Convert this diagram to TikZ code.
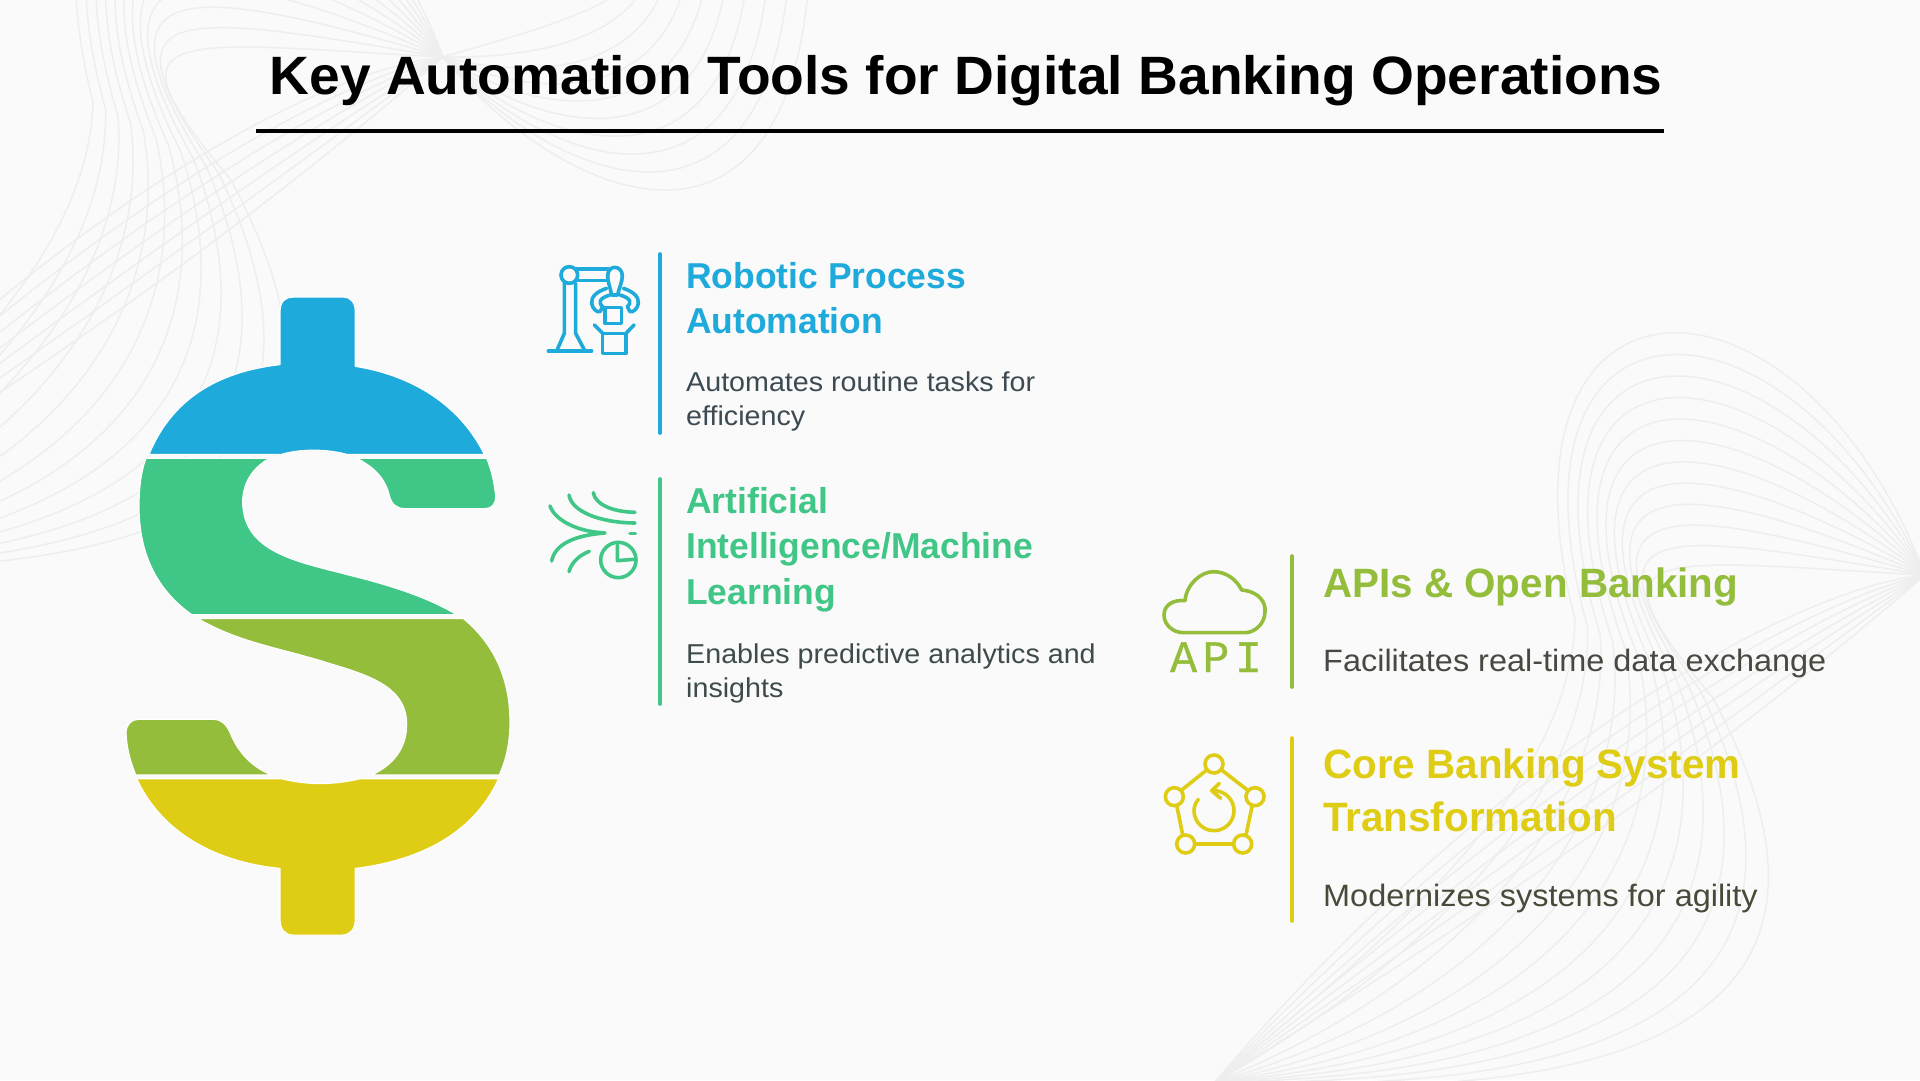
\documentclass[tikz,border=0pt]{standalone}
\usepackage{fontspec}
\setmainfont{Liberation Sans}
\newfontfamily\titlefont[FakeStretch=1.021]{Liberation Sans Bold}
\newfontfamily\headfont[FakeStretch=0.985]{Liberation Sans Bold}
\newfontfamily\bodyfont[FakeStretch=1.05]{Liberation Sans}
\newfontfamily\apifont[LetterSpace=12,FakeBold=0.6]{Liberation Mono}
\definecolor{bgc}{HTML}{FAFAFA}
\definecolor{linec}{HTML}{EEEEEE}
\definecolor{cblue}{HTML}{1EAADB}
\definecolor{cgreen}{HTML}{40C687}
\definecolor{colive}{HTML}{94BD3C}
\definecolor{cyellow}{HTML}{DFCD15}
\definecolor{dblue}{HTML}{3D4A52}
\definecolor{dgreen}{HTML}{3F4B4B}
\definecolor{dolive}{HTML}{474A40}
\definecolor{dyellow}{HTML}{4A4A3A}
\tikzset{
  bgline/.style={draw=linec,line width=1.5pt},
  dollarpart/.style={draw=white,line width=1.2pt,line join=round},
  iconline/.style={line width=3.6pt,line cap=round,line join=round},
  barline/.style={line width=3.6pt,line cap=round},
  headtext/.style={inner sep=0pt,anchor=north west,align=left,font=\headfont},
  bodytext/.style={inner sep=0pt,anchor=north west,align=left,font=\bodyfont},
}
\newcommand{\ribbonA}{%
  \foreach \i in {0,...,11}{%
    \pgfmathsetmacro\t{\i/11}%
    \draw[bgline] (1925,575)
      .. controls ({1800+(1650-1800)*\t},{245+(560-245)*\t}) and ({1480+(1580-1480)*\t},{245+(540-245)*\t})
      .. ({1575+(1713-1575)*\t},{620+(698-620)*\t})
      .. controls ({1570+(1810-1570)*\t},{800+(880-800)*\t}) and ({1360+(1850-1360)*\t},{960+(1120-960)*\t})
      .. (1215,1082);
  }%
  \foreach \i in {0,...,6}{%
    \pgfmathsetmacro\t{\i/6}%
    \draw[bgline] (1925,575)
      .. controls (1780,{590+(700-590)*\t}) and ({1480+(1590-1480)*\t},{770+(850-770)*\t})
      .. (1215,1082);
  }%
}
\begin{document}
\begin{tikzpicture}[x=1pt,y=-1pt]
\useasboundingbox (0,0) rectangle (1920,1080);
\fill[bgc] (0,0) rectangle (1920,1080);
% background ribbons
\begin{scope}
  \clip (0,0) rectangle (1920,1080);
  \ribbonA
  \begin{scope}[shift={(-1482,-518)}]
    \ribbonA
  \end{scope}
  \foreach \i in {0,...,9}{%
    \pgfmathsetmacro\t{\i/9}%
    \draw[bgline] (443,57)
      .. controls ({500+(560-500)*\t},{40+(200-40)*\t}) and ({580+(780-580)*\t},{20+(290-20)*\t})
      .. ({620+(808-620)*\t},-8);
  }
\end{scope}
% title
\node[inner sep=0pt,anchor=base,font=\titlefont\fontsize{54}{60}\selectfont] (title) at (966,94) {Key Automation Tools for Digital Banking Operations};
\coordinate (ruleL) at (256,131);
\coordinate (ruleR) at (1664,131);
\draw[line width=3.6pt,black] (ruleL) -- (ruleR);
% dollar sign
\begin{scope}[shift={(100,280)},x=0.33333pt,y=-0.42735pt]
  \filldraw[dollarpart,fill=cblue] (147,408) .. controls (215,280) and (350,215) .. (540,198) -- (540,75)
    .. controls (540,50) and (555,40) .. (580,40) -- (730,40) .. controls (755,40) and (766,55) .. (766,75)
    -- (766,202) .. controls (950,225) and (1085,300) .. (1153,408) -- (740,408)
    .. controls (680,395) and (600,395) .. (545,408) -- cycle;
  \filldraw[dollarpart,fill=cgreen] (138,417) .. controls (122,450) and (117,490) .. (117,530)
    .. controls (117,640) and (170,725) .. (275,783) -- (1070,783)
    .. controls (1000,750) and (900,720) .. (760,693) .. controls (600,660) and (430,640) .. (428,520)
    .. controls (428,470) and (465,435) .. (510,417) -- cycle;
  \filldraw[dollarpart,fill=cgreen] (770,417) .. controls (815,435) and (855,460) .. (868,505)
    .. controls (875,525) and (890,535) .. (915,535) -- (1155,535) .. controls (1175,535) and (1188,525) .. (1187,505)
    .. controls (1183,475) and (1175,445) .. (1160,417) -- cycle;
  \filldraw[dollarpart,fill=colive] (293,792) -- (1090,792) .. controls (1180,850) and (1230,930) .. (1230,1035)
    .. controls (1230,1080) and (1220,1120) .. (1198,1158) -- (815,1158)
    .. controls (880,1135) and (920,1095) .. (920,1040) .. controls (920,960) and (830,930) .. (700,900)
    .. controls (540,860) and (420,850) .. (293,792) -- cycle;
  \filldraw[dollarpart,fill=colive] (107,1158) .. controls (90,1125) and (80,1095) .. (78,1060)
    .. controls (78,1040) and (95,1028) .. (115,1028) -- (340,1028) .. controls (365,1028) and (380,1040) .. (392,1062)
    .. controls (415,1105) and (455,1140) .. (515,1158) -- cycle;
  \filldraw[dollarpart,fill=cyellow] (110,1167) -- (545,1167) .. controls (620,1182) and (700,1182) .. (780,1167)
    -- (1196,1167) .. controls (1130,1280) and (990,1355) .. (766,1377) -- (766,1495)
    .. controls (766,1520) and (750,1533) .. (725,1533) -- (580,1533) .. controls (555,1533) and (540,1520) .. (540,1495)
    -- (540,1377) .. controls (330,1360) and (180,1285) .. (110,1167) -- cycle;
\end{scope}
% robot icon
\begin{scope}[shift={(530,250)},x=0.33333pt,y=-0.33333pt,iconline,draw=cblue]
  \draw (55,303) -- (185,303);
  \draw (103,100) -- (103,250) -- (80,303);
  \draw (137,100) -- (137,250) -- (165,303);
  \draw (118,50) .. controls (132,50) and (143,61) .. (143,75) .. controls (143,89) and (132,100) .. (118,100)
     .. controls (104,100) and (93,89) .. (93,75) .. controls (93,61) and (104,50) .. (118,50) -- cycle;
  \draw (140,57) -- (235,57);
  \draw (140,92) -- (235,92);
  \draw (245,135) .. controls (240,110) and (233,95) .. (233,78) .. controls (233,60) and (245,52) .. (254,52)
     .. controls (265,52) and (277,60) .. (277,78) .. controls (277,95) and (268,110) .. (263,135) -- cycle;
  \draw (230,115) .. controls (200,125) and (183,140) .. (185,160) .. controls (187,175) and (200,188) .. (210,185)
     -- (218,170) .. controls (205,160) and (205,145) .. (240,135);
  \draw (280,115) .. controls (310,125) and (327,140) .. (325,160) .. controls (323,175) and (310,188) .. (300,185)
     -- (292,170) .. controls (305,160) and (305,145) .. (270,135);
  \draw (225,172) rectangle (275,220);
  \draw (218,250) rectangle (288,310);
  \draw (193,225) -- (218,250);
  \draw (312,225) -- (288,250);
\end{scope}
% AI icon
\begin{scope}[shift={(530,480)},x=0.33333pt,y=-0.33333pt,iconline,draw=cgreen]
  \draw (190,38) .. controls (195,70) and (240,95) .. (315,97);
  \draw (117,45) .. controls (125,95) and (210,128) .. (315,129);
  \draw (60,78) .. controls (75,120) and (140,155) .. (225,159) .. controls (140,165) and (75,190) .. (65,243);
  \draw (178,214) .. controls (150,225) and (125,245) .. (117,275);
  \draw (300,161) -- (316,161);
  \draw (265,187) .. controls (294,187) and (318,211) .. (318,240) .. controls (318,269) and (294,293) .. (265,293)
     .. controls (236,293) and (212,269) .. (212,240) .. controls (212,211) and (236,187) .. (265,187) -- cycle;
  \draw (262,195) -- (262,242) -- (310,238);
\end{scope}
% API icon
\begin{scope}[shift={(1150,560)},x=0.33333pt,y=-0.33333pt,iconline,draw=colive]
  \draw (105,122) .. controls (110,70) and (155,35) .. (190,35) .. controls (230,35) and (260,60) .. (275,90)
     .. controls (330,95) and (348,130) .. (345,155) .. controls (345,190) and (315,218) .. (285,218) -- (100,218)
     .. controls (70,218) and (42,195) .. (42,165) .. controls (42,135) and (70,118) .. (105,122) -- cycle;
\end{scope}
\node[inner sep=0pt,anchor=base,text=colive,font=\apifont\fontsize{45}{50}\selectfont] (apilabel) at (1216,672) {API};
% core icon
\begin{scope}[shift={(1150,745)},x=0.33333pt,y=-0.33333pt,iconline,draw=cyellow]
  \foreach \cx/\cy in {192/57,73/155,315/155,107/297,278/297}{
    \draw (\cx,\cy-27) .. controls (\cx+15,\cy-27) and (\cx+27,\cy-15) .. (\cx+27,\cy)
      .. controls (\cx+27,\cy+15) and (\cx+15,\cy+27) .. (\cx,\cy+27)
      .. controls (\cx-15,\cy+27) and (\cx-27,\cy+15) .. (\cx-27,\cy)
      .. controls (\cx-27,\cy-15) and (\cx-15,\cy-27) .. (\cx,\cy-27) -- cycle;
  }
  \draw (170,75) -- (95,135);
  \draw (215,75) -- (292,135);
  \draw (80,180) -- (98,270);
  \draw (307,180) -- (288,270);
  \draw (135,297) -- (250,297);
  \draw (192,137) .. controls (225,137) and (252,164) .. (252,197) .. controls (252,230) and (225,257) .. (192,257)
     .. controls (159,257) and (132,230) .. (132,197) .. controls (132,185) and (137,173) .. (145,163);
  \draw (208,115) -- (185,137) -- (212,160);
\end{scope}
% separator bars
\coordinate (b1a) at (660,254); \coordinate (b1b) at (660,433);
\coordinate (b2a) at (660,479); \coordinate (b2b) at (660,704);
\coordinate (b3a) at (1292,556); \coordinate (b3b) at (1292,687);
\coordinate (b4a) at (1292,738); \coordinate (b4b) at (1292,921);
\draw[barline,cblue] (b1a) -- (b1b);
\draw[barline,cgreen] (b2a) -- (b2b);
\draw[barline,colive] (b3a) -- (b3b);
\draw[barline,cyellow] (b4a) -- (b4b);
% texts
\node[headtext,text=cblue,font=\headfont\fontsize{36}{45}\selectfont] (rpah) at (686,262) {Robotic Process\\Automation};
\node[bodytext,text=dblue,font=\bodyfont\fontsize{27.3}{33.5}\selectfont] (rpad) at (686,372) {Automates routine tasks for\\efficiency};
\node[headtext,text=cgreen,font=\headfont\fontsize{36}{45.5}\selectfont] (aih) at (686,487) {Artificial\\Intelligence/Machine\\Learning};
\node[bodytext,text=dgreen,font=\bodyfont\fontsize{27.3}{33.5}\selectfont] (aid) at (686,644) {Enables predictive analytics and\\insights};
\node[headtext,text=colive,font=\headfont\fontsize{41}{52}\selectfont] (apih) at (1323,568) {APIs \& Open Banking};
\node[bodytext,text=dolive,font=\bodyfont\fontsize{30.9}{36}\selectfont] (apid) at (1323,649) {Facilitates real-time data exchange};
\node[headtext,text=cyellow,font=\headfont\fontsize{41}{52.5}\selectfont] (coreh) at (1323,749) {Core Banking System\\Transformation};
\node[bodytext,text=dyellow,font=\bodyfont\fontsize{30.9}{36}\selectfont] (cored) at (1323,884) {Modernizes systems for agility};
\end{tikzpicture}
\end{document}
